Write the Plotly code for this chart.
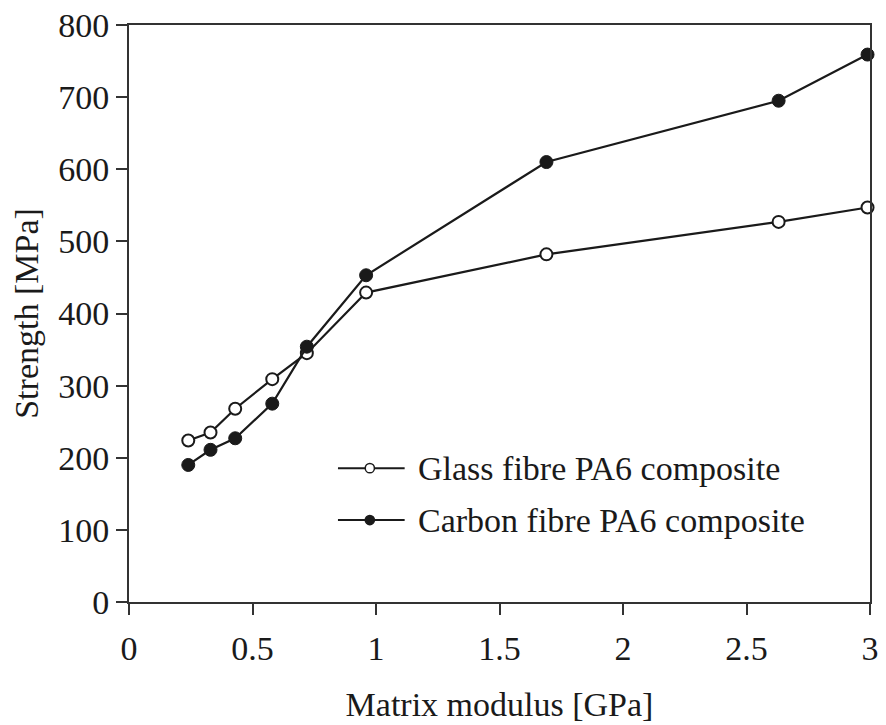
import plotly.graph_objects as go

# Matrix modulus (GPa) and tensile strength (MPa) of the two PA6 composites
modulus = [0.24, 0.33, 0.43, 0.58, 0.72, 0.96, 1.69, 2.63, 2.99]
glass_strength = [224, 235, 268, 309, 345, 429, 482, 527, 547]
carbon_strength = [190, 211, 227, 275, 354, 453, 610, 695, 759]

x_ticks = [0, 0.5, 1, 1.5, 2, 2.5, 3]
x_tick_text = ["0", "0.5", "1", "1.5", "2", "2.5", "3"]
y_ticks = [0, 100, 200, 300, 400, 500, 600, 700, 800]

series_names = ["Glass fibre PA6 composite", "Carbon fibre PA6 composite"]

FONT = "Liberation Serif, Times New Roman, serif"
INK = "#1a1a1a"
FS = 34

fig = go.Figure()

fig.add_trace(go.Scatter(
    x=modulus, y=glass_strength, mode="lines+markers", name=series_names[0],
    line=dict(color=INK, width=2.2),
    marker=dict(symbol="circle", size=12, color="white",
                line=dict(color=INK, width=2)),
    cliponaxis=False, showlegend=False,
))
fig.add_trace(go.Scatter(
    x=modulus, y=carbon_strength, mode="lines+markers", name=series_names[1],
    line=dict(color=INK, width=2.2),
    marker=dict(symbol="circle", size=13, color=INK,
                line=dict(color=INK, width=1)),
    cliponaxis=False, showlegend=False,
))

# Hand-drawn legend inside the plot area (line sample, marker, label)
legend_rows = [(0.232, "white"), (0.142, INK)]
x0, x1, xm = 0.282, 0.372, 0.325
for (yp, fill), label in zip(legend_rows, series_names):
    fig.add_shape(type="line", xref="paper", yref="paper",
                  x0=x0, x1=x1, y0=yp, y1=yp,
                  line=dict(color=INK, width=2))
    fig.add_shape(type="circle", xref="paper", yref="paper",
                  x0=xm - 0.0062, x1=xm + 0.0062,
                  y0=yp - 0.008, y1=yp + 0.008,
                  fillcolor=fill, line=dict(color=INK, width=1.5))
    fig.add_annotation(xref="paper", yref="paper", x=0.387, y=yp,
                       text=label, showarrow=False, xanchor="left",
                       yanchor="middle",
                       font=dict(family=FONT, size=FS, color=INK))

axis_common = dict(
    showline=True, linecolor="#333333", linewidth=2, mirror=True,
    ticks="outside", tickcolor="#333333", tickwidth=2,
    showgrid=False, zeroline=False, automargin=False,
    tickfont=dict(family=FONT, size=FS, color=INK),
)

fig.update_xaxes(
    range=[0, 3], tickvals=x_ticks, ticktext=x_tick_text, ticklen=11,
    ticklabelstandoff=4,
    title=dict(text="Matrix modulus [GPa]", standoff=26,
               font=dict(family=FONT, size=FS, color=INK)),
    **axis_common,
)
fig.update_yaxes(
    range=[0, 800], tickvals=y_ticks, ticklen=11,
    title=dict(text="Strength [MPa]", standoff=9,
               font=dict(family=FONT, size=FS, color=INK)),
    **axis_common,
)

fig.update_layout(
    width=886, height=725,
    margin=dict(l=129, r=16, t=25, b=123),
    paper_bgcolor="white", plot_bgcolor="white",
    showlegend=False,
)

fig.write_html("out.html")
